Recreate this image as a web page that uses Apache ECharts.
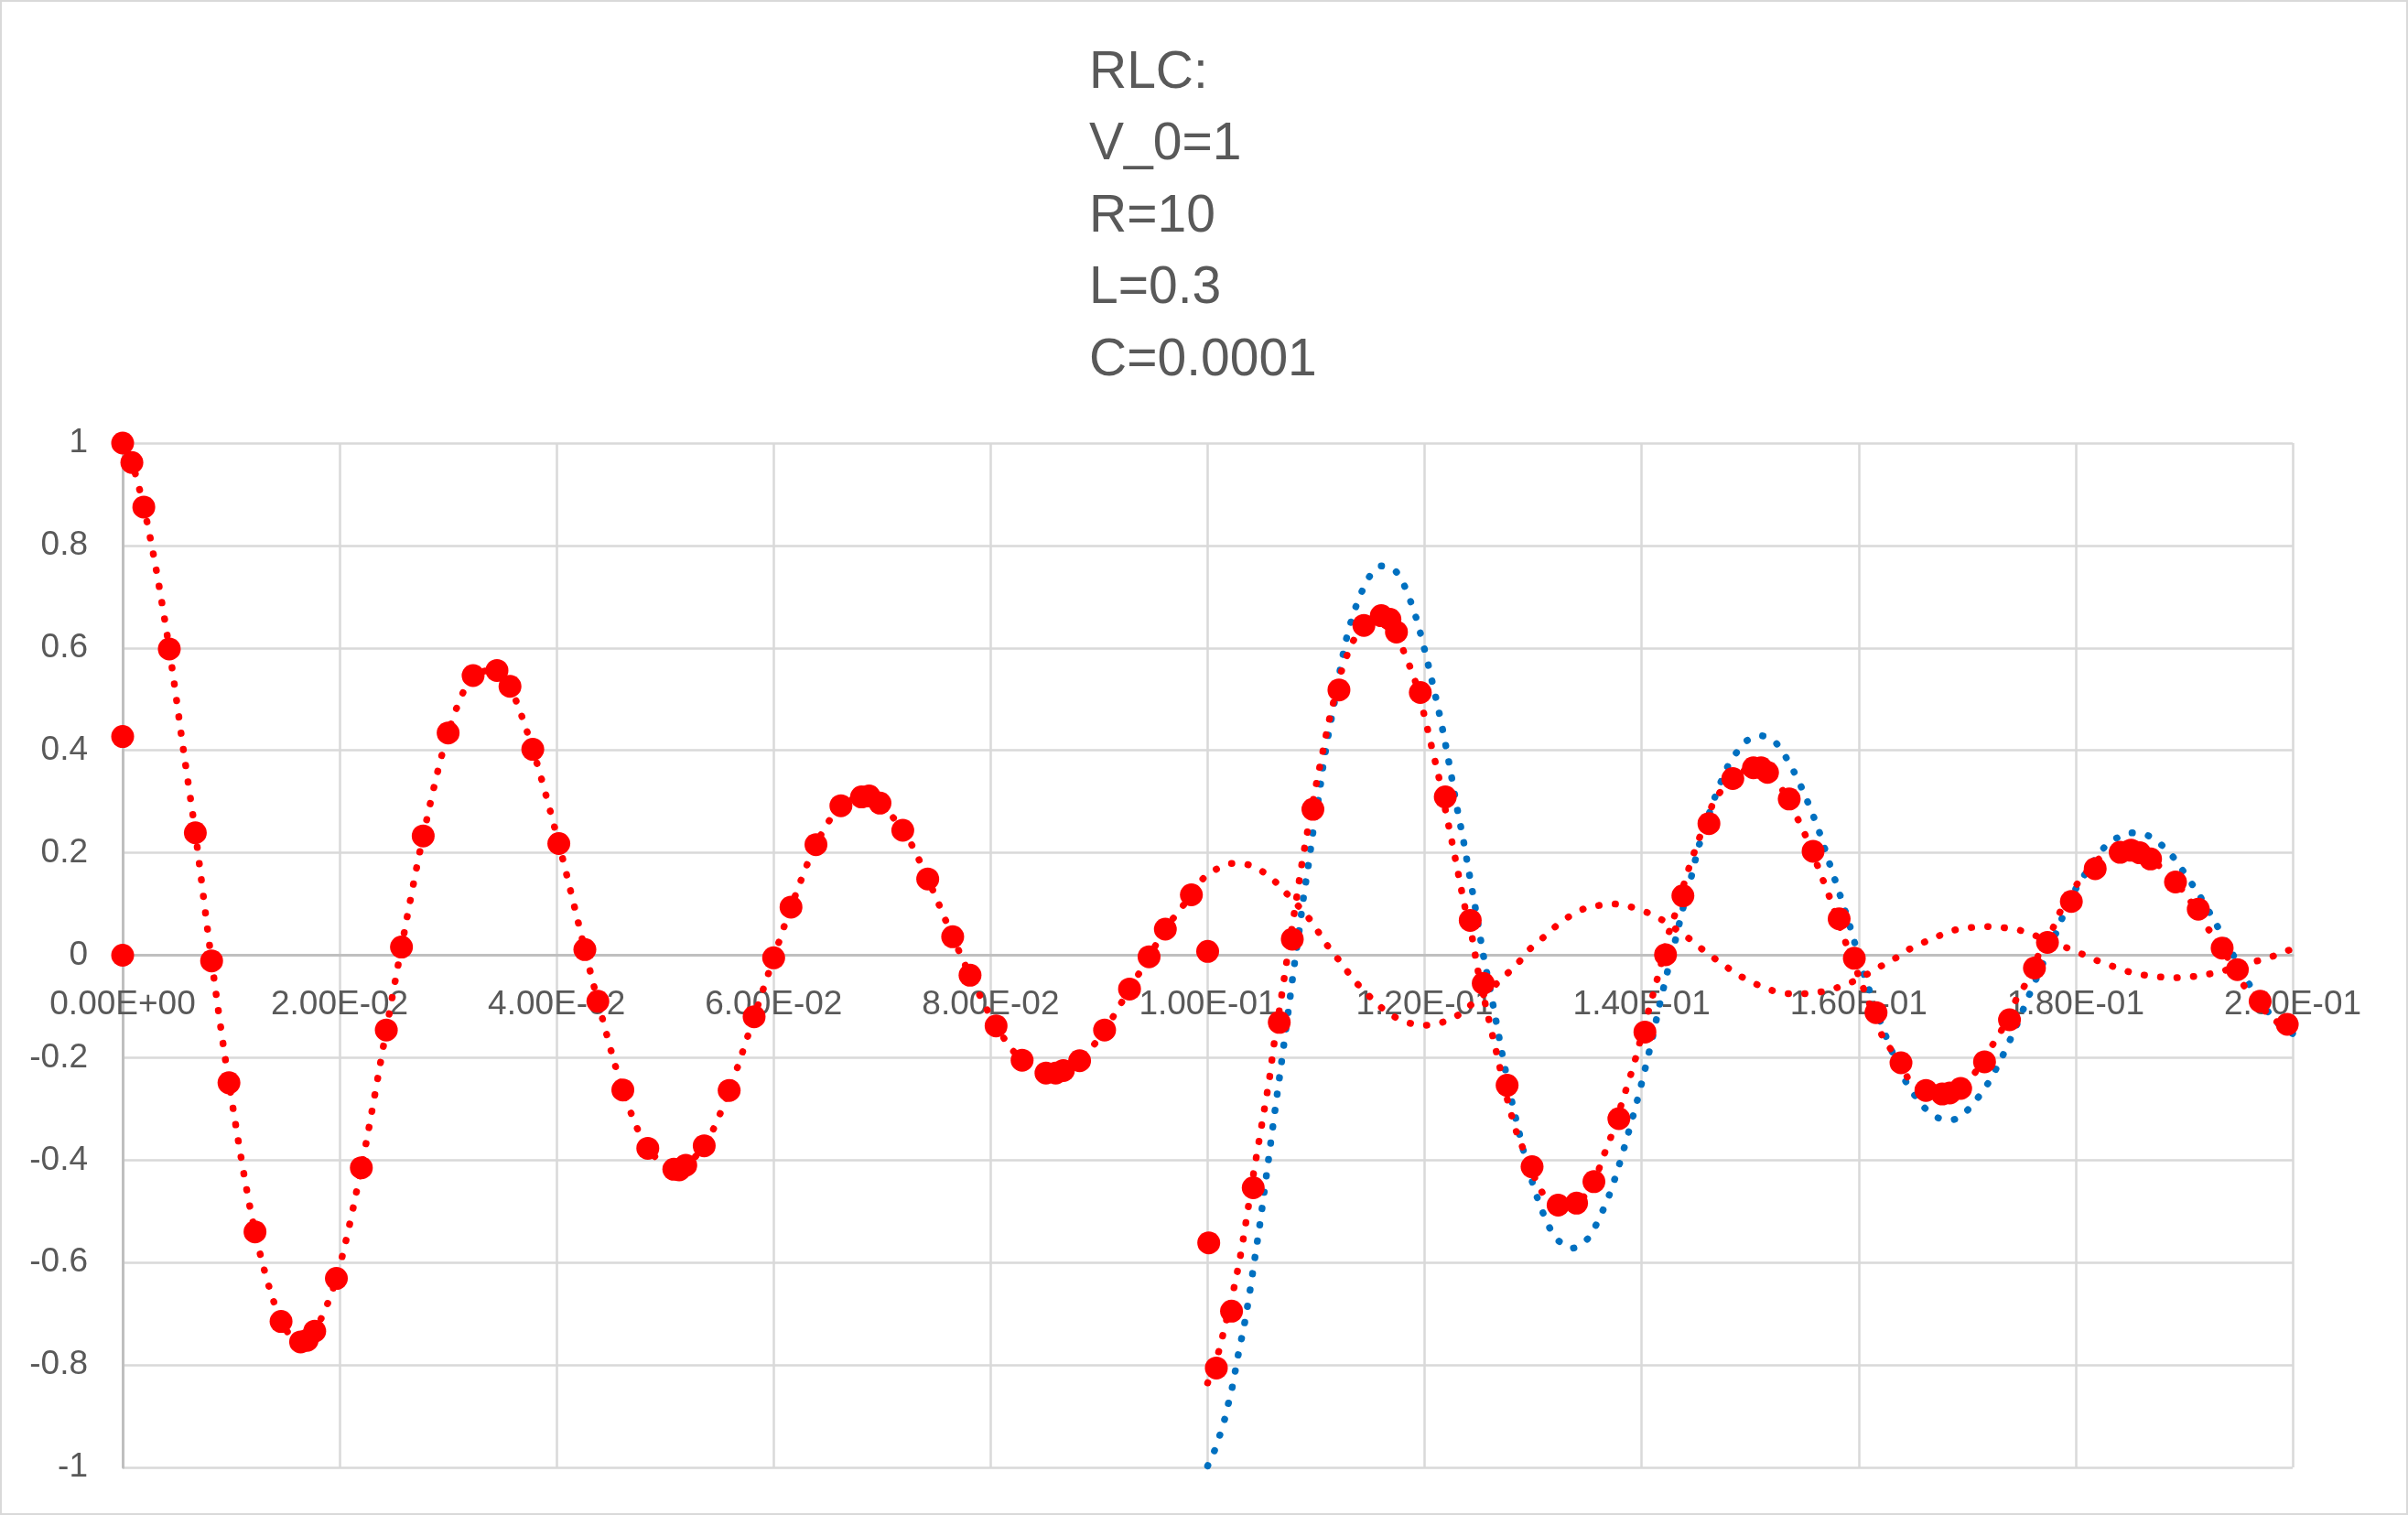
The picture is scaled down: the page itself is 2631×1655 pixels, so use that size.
<!DOCTYPE html>
<html>
<head>
<meta charset="utf-8">
<script src="https://cdn.jsdelivr.net/npm/echarts@6/dist/echarts.min.js"></script>
<style>
html,body{margin:0;padding:0;background:#fff;}
#chart{width:2631px;height:1655px;}
</style>
</head>
<body>
<div id="chart"></div>
<script>
// ---- Data ----
var titleLines = ['RLC:', 'V_0=1', 'R=10', 'L=0.3', 'C=0.0001'];

var xTicks = { min: 0, max: 0.2, interval: 0.02 };
var yTicks = { min: -1, max: 1, interval: 0.2 };

// Red markers (numerical values)
var markerT = [0, 0.00085, 0.00195, 0.0043, 0, 0.0067, 0, 0.0082, 0.0098, 0.0122, 0.0146, 0.0164, 0.0170, 0.0177, 0.0197, 0.0220, 0.0243,
  0.0257, 0.0277, 0.0300, 0.0323, 0.0345, 0.0357, 0.0378, 0.0402, 0.0426, 0.0438, 0.0461, 0.0484, 0.0508, 0.0513, 0.0519, 0.0536, 0.0559,
  0.0582, 0.0600, 0.0616, 0.0639, 0.0662, 0.0681, 0.0688, 0.0698, 0.0719, 0.0742, 0.0765, 0.0781, 0.0805, 0.0829, 0.0851, 0.0860, 0.0867,
  0.0882, 0.0905, 0.0928, 0.0946, 0.0961, 0.0985, 0.1000, 0.1001, 0.1008, 0.1022, 0.1042, 0.1066, 0.1078, 0.1097, 0.1121, 0.1144, 0.1160,
  0.1168, 0.1174, 0.1196, 0.1219, 0.1242, 0.1254, 0.1276, 0.1299, 0.1323, 0.1340, 0.1356, 0.1379, 0.1403, 0.1422, 0.1438, 0.1462, 0.1484,
  0.1503, 0.1510, 0.1516, 0.1536, 0.1558, 0.1582, 0.1596, 0.1616, 0.1639, 0.1662, 0.1677, 0.1684, 0.1694, 0.1716, 0.1739, 0.1762, 0.1774,
  0.1796, 0.1818, 0.1841, 0.1851, 0.1859, 0.1869, 0.1892, 0.1913, 0.1935, 0.1949, 0.1970, 0.1995];
var markerV = [1.0, 0.962, 0.875, 0.598, 0.427, 0.239, 0, -0.011, -0.249, -0.540, -0.715, -0.755, -0.752, -0.734, -0.631, -0.415, -0.146,
  0.016, 0.233, 0.434, 0.546, 0.556, 0.525, 0.402, 0.218, 0.011, -0.090, -0.263, -0.377, -0.418, -0.419, -0.410, -0.372, -0.264,
  -0.120, -0.005, 0.094, 0.216, 0.292, 0.309, 0.311, 0.297, 0.244, 0.149, 0.036, -0.039, -0.138, -0.205, -0.230, -0.230, -0.225,
  -0.206, -0.146, -0.066, -0.003, 0.051, 0.118, 0.0075, -0.5615, -0.806, -0.695, -0.454, -0.131, 0.0315, 0.285, 0.518, 0.644, 0.663,
  0.656, 0.631, 0.513, 0.309, 0.068, -0.055, -0.254, -0.413, -0.488, -0.484, -0.442, -0.319, -0.150, 0.001, 0.116, 0.257, 0.345,
  0.366, 0.366, 0.357, 0.305, 0.203, 0.071, -0.006, -0.112, -0.210, -0.264, -0.271, -0.269, -0.260, -0.208, -0.126, -0.025, 0.025,
  0.105, 0.169, 0.201, 0.205, 0.200, 0.188, 0.143, 0.090, 0.014, -0.028, -0.090, -0.135];

// Red dotted curve 1 (0 .. 0.2)
var curveAT = [0, 0.00085, 0.00195, 0.0031, 0.0043, 0.0056, 0.0067, 0.0082, 0.0098, 0.0122, 0.0146, 0.0164, 0.0177, 0.0197, 0.0220,
  0.0243, 0.0257, 0.0277, 0.0300, 0.0323, 0.0345, 0.0357, 0.0378, 0.0402, 0.0426, 0.0438, 0.0461, 0.0484, 0.0510, 0.0536, 0.0559,
  0.0582, 0.0600, 0.0616, 0.0639, 0.0662, 0.0685, 0.0719, 0.0742, 0.0765, 0.0781, 0.0805, 0.0829, 0.0858, 0.0882, 0.0905, 0.0928,
  0.0946, 0.0961, 0.0985, 0.0996, 0.1008, 0.1022, 0.1037, 0.1050, 0.1062, 0.1073, 0.1093, 0.1110, 0.1120, 0.1138, 0.1160, 0.1172,
  0.1186, 0.1201, 0.1216, 0.1230, 0.1242, 0.1266, 0.1287, 0.1297, 0.1309, 0.1320, 0.1332, 0.1346, 0.1360, 0.1375, 0.1389, 0.1405,
  0.1418, 0.1443, 0.1455, 0.1467, 0.1479, 0.1492, 0.1506, 0.1519, 0.1534, 0.1549, 0.1564, 0.1579, 0.1593, 0.1607, 0.1620, 0.1633,
  0.1646, 0.1660, 0.1673, 0.1688, 0.1703, 0.1718, 0.1733, 0.1748, 0.1762, 0.1790, 0.1804, 0.1818, 0.1832, 0.1847, 0.1861, 0.1876,
  0.1890, 0.1906, 0.1920, 0.1935, 0.1964, 0.1978, 0.1993, 0.2000];
var curveAV = [1.0, 0.962, 0.875, 0.752, 0.598, 0.401, 0.239, -0.011, -0.249, -0.540, -0.715, -0.755, -0.734, -0.631, -0.415,
  -0.146, 0.016, 0.233, 0.434, 0.546, 0.556, 0.525, 0.402, 0.218, 0.011, -0.090, -0.263, -0.377, -0.418, -0.372, -0.264,
  -0.120, -0.005, 0.094, 0.216, 0.292, 0.311, 0.244, 0.149, 0.036, -0.039, -0.138, -0.205, -0.231, -0.206, -0.146, -0.066,
  -0.003, 0.051, 0.118, 0.150, 0.168, 0.179, 0.177, 0.164, 0.144, 0.120, 0.073, 0.020, -0.007, -0.056, -0.102, -0.120,
  -0.1325, -0.1366, -0.131, -0.118, -0.098, -0.056, -0.013, 0.012, 0.034, 0.055, 0.074, 0.090, 0.097, 0.100, 0.095, 0.0835,
  0.070, 0.0335, 0.013, -0.006, -0.024, -0.042, -0.057, -0.068, -0.075, -0.075, -0.072, -0.064, -0.053, -0.038, -0.022, -0.007,
  0.011, 0.025, 0.037, 0.049, 0.054, 0.056, 0.054, 0.049, 0.039, 0.016, 0.004, -0.009, -0.020, -0.031, -0.038, -0.042,
  -0.044, -0.042, -0.038, -0.031, -0.013, -0.005, 0.0075, 0.012];

// Red dotted curve 2 (0.1 .. 0.2)
var curveCT = [0.1000, 0.1010, 0.10135, 0.1024, 0.1030, 0.1035, 0.1042, 0.1047, 0.1052, 0.1057, 0.1061, 0.1068, 0.10725, 0.10795,
  0.10865, 0.10916, 0.1100, 0.1106, 0.1112, 0.1123, 0.1128, 0.1134, 0.1144, 0.1160, 0.1168, 0.1180, 0.1191, 0.1199, 0.1206, 0.1213,
  0.1219, 0.1225, 0.1231, 0.1237, 0.1244, 0.1249, 0.1259, 0.1266, 0.1276, 0.1285, 0.1290, 0.1308, 0.1323, 0.1340, 0.1356, 0.1364,
  0.1370, 0.1384, 0.1393, 0.1397, 0.1405, 0.1413, 0.1417, 0.1424, 0.1429, 0.1442, 0.1452, 0.1463, 0.1469, 0.1484, 0.1503, 0.1510,
  0.1525, 0.1540, 0.1553, 0.1564, 0.1575, 0.1585, 0.1601, 0.1618, 0.1624, 0.1639, 0.1648, 0.1662, 0.1680, 0.1694, 0.1708, 0.1724,
  0.1732, 0.1746, 0.1753, 0.1765, 0.1780, 0.1786, 0.1802, 0.1822, 0.1841, 0.1851, 0.1869, 0.1892, 0.1906, 0.1922, 0.1935, 0.1955,
  0.1984, 0.2000];
var curveCV = [-0.835, -0.775, -0.746, -0.652, -0.589, -0.525, -0.430, -0.367, -0.304, -0.240, -0.176, -0.081, -0.017, 0.078,
  0.174, 0.237, 0.333, 0.396, 0.459, 0.552, 0.583, 0.613, 0.644, 0.663, 0.656, 0.597, 0.537, 0.474, 0.411, 0.348,
  0.285, 0.223, 0.159, 0.095, 0.032, -0.029, -0.124, -0.188, -0.280, -0.348, -0.374, -0.462, -0.488, -0.484, -0.442, -0.396,
  -0.365, -0.273, -0.212, -0.180, -0.119, -0.057, -0.025, 0.037, 0.068, 0.160, 0.222, 0.282, 0.309, 0.345, 0.366, 0.366,
  0.338, 0.282, 0.224, 0.164, 0.103, 0.042, -0.046, -0.138, -0.167, -0.210, -0.249, -0.264, -0.271, -0.260, -0.227, -0.173,
  -0.145, -0.083, -0.059, -0.003, 0.057, 0.086, 0.141, 0.189, 0.201, 0.205, 0.188, 0.143, 0.105, 0.052, 0.014, -0.059,
  -0.128, -0.141];

// Blue dotted curve (0.1 .. 0.2)
var curveDT = [0.1000, 0.1006, 0.1011, 0.10154, 0.1019, 0.10225, 0.1028, 0.1034, 0.1039, 0.10435, 0.1048, 0.1052, 0.1056, 0.1060,
  0.1064, 0.1068, 0.1076, 0.1080, 0.10843, 0.10882, 0.10927, 0.10969, 0.1101, 0.1104, 0.1106, 0.1111, 0.11166, 0.1122, 0.1128,
  0.11365, 0.1149, 0.1160, 0.1173, 0.1181, 0.11915, 0.11994, 0.12065, 0.12132, 0.12192, 0.12248, 0.12301, 0.12358, 0.12411,
  0.12465, 0.12541, 0.1260, 0.12656, 0.12713, 0.12803, 0.12873, 0.12907, 0.13034, 0.13149, 0.13231, 0.1336, 0.13487, 0.13569,
  0.13696, 0.13792, 0.13876, 0.13955, 0.14028, 0.14098, 0.14163, 0.14233, 0.14303, 0.14379, 0.14455, 0.14528, 0.14669, 0.14787,
  0.14865, 0.14963, 0.15101, 0.15236, 0.15399, 0.15525, 0.15635, 0.1573, 0.15826, 0.15919, 0.16045, 0.16093, 0.16247, 0.1643,
  0.16604, 0.16725, 0.16865, 0.16992, 0.1718, 0.17323, 0.17449, 0.17567, 0.1781, 0.17866, 0.17992, 0.18076, 0.18249, 0.18364,
  0.18504, 0.1865, 0.18776, 0.18882, 0.18972, 0.1914, 0.19294, 0.19443, 0.19588, 0.1984, 0.2000];
var curveDV = [-0.997, -0.969, -0.9385, -0.908, -0.876, -0.845, -0.782, -0.719, -0.655, -0.591, -0.527, -0.464, -0.400, -0.336,
  -0.2725, -0.210, -0.082, -0.017, 0.047, 0.111, 0.174, 0.238, 0.290, 0.333, 0.364, 0.428, 0.491, 0.556, 0.619,
  0.680, 0.739, 0.760, 0.750, 0.723, 0.663, 0.601, 0.538, 0.475, 0.412, 0.348, 0.285, 0.223, 0.159,
  0.095, 0.000, -0.063, -0.126, -0.191, -0.285, -0.348, -0.379, -0.471, -0.531, -0.557, -0.572, -0.557, -0.531,
  -0.471, -0.410, -0.348, -0.287, -0.225, -0.162, -0.099, -0.036, 0.023, 0.090, 0.151, 0.214, 0.305, 0.366,
  0.393, 0.418, 0.4285, 0.415, 0.360, 0.302, 0.242, 0.180, 0.119, 0.057, -0.0355, -0.065, -0.156, -0.245,
  -0.297, -0.317, -0.321, -0.305, -0.254, -0.198, -0.140, -0.080, 0.039, 0.068, 0.126, 0.155, 0.207, 0.227,
  0.239, 0.235, 0.218, 0.196, 0.170, 0.117, 0.061, 0.004, -0.053, -0.128, -0.153];

function zip(a, b) { var out = []; for (var i = 0; i < a.length; i++) out.push([a[i], b[i]]); return out; }

var TEXT = '#595959';
var FONT = '"Liberation Sans", Arial, sans-serif';
var dotted = function (color) {
  return { color: color, width: 7.5, type: [0.5, 17.5], cap: 'round' };
};

// plot area geometry (pixels)
var GRID = { left: 134, right: 126, top: 484, bottom: 52 };
var plotH = 1655 - GRID.top - GRID.bottom;
// the x axis crosses the y axis at value 0
var xAxisOffset = -plotH * (0 - yTicks.min) / (yTicks.max - yTicks.min);

var chart = echarts.init(document.getElementById('chart'), null, { renderer: 'canvas' });
chart.setOption({
  animation: false,
  backgroundColor: '#ffffff',
  title: {
    text: titleLines.join('\n'),
    left: 1190, top: 41, padding: 0,
    textStyle: { color: TEXT, fontSize: 57, lineHeight: 78.5, fontWeight: 'normal', fontFamily: FONT }
  },
  graphic: [{
    type: 'rect', silent: true, z: -10,
    shape: { x: 1, y: 1, width: 2629, height: 1653 },
    style: { fill: 'none', stroke: '#D9D9D9', lineWidth: 2 }
  }],
  grid: { left: GRID.left, right: GRID.right, top: GRID.top, bottom: GRID.bottom, containLabel: false, outerBoundsMode: 'none' },
  xAxis: {
    type: 'value', min: xTicks.min, max: xTicks.max, interval: xTicks.interval,
    position: 'bottom', offset: xAxisOffset,
    axisLine: { show: true, onZero: false, lineStyle: { color: '#BFBFBF', width: 3 } },
    axisTick: { show: false },
    splitLine: { show: true, lineStyle: { color: '#D9D9D9', width: 2.5 } },
    axisLabel: {
      color: TEXT, fontSize: 37, fontFamily: FONT, margin: 36, showMaxLabel: true, showMinLabel: true,
      hideOverlap: false,
      formatter: function (v) {
        var s = Number(v).toExponential(2).toUpperCase();
        return s.replace(/E([+-])(\d)$/, 'E$10$2');
      }
    }
  },
  yAxis: {
    type: 'value', min: yTicks.min, max: yTicks.max, interval: yTicks.interval,
    axisLine: { show: true, onZero: false, lineStyle: { color: '#BFBFBF', width: 3 } },
    axisTick: { show: false },
    splitLine: { show: true, lineStyle: { color: '#D9D9D9', width: 2.5 } },
    axisLabel: {
      color: TEXT, fontSize: 37, fontFamily: FONT, margin: 38,
      formatter: function (v) { return String(Math.round(v * 10) / 10); }
    }
  },
  series: [
    { name: 'blue', type: 'line', data: zip(curveDT, curveDV), symbol: 'none', smooth: 0.3,
      lineStyle: dotted('#0070C0'), z: 2 },
    { name: 'curveA', type: 'line', data: zip(curveAT, curveAV), symbol: 'none', smooth: 0.3,
      lineStyle: dotted('#FF0000'), z: 3 },
    { name: 'curveC', type: 'line', data: zip(curveCT, curveCV), symbol: 'none', smooth: 0.3,
      lineStyle: dotted('#FF0000'), z: 3 },
    { name: 'markers', type: 'scatter', data: zip(markerT, markerV), symbol: 'circle', symbolSize: 25,
      itemStyle: { color: '#FF0000', opacity: 1 }, z: 4 }
  ]
});
</script>
</body>
</html>
